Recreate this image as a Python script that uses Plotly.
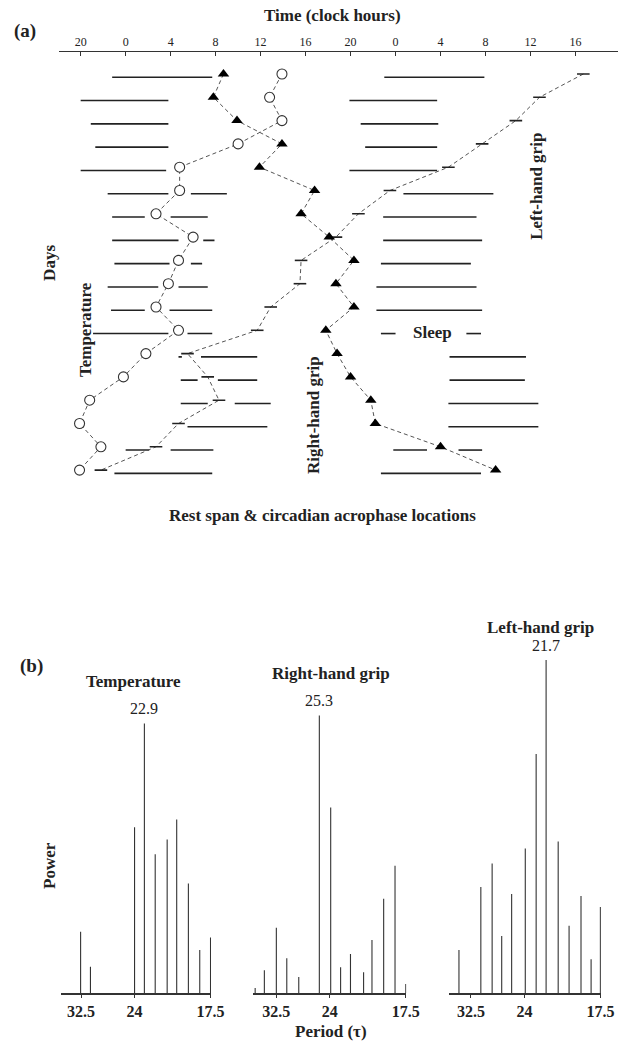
import plotly.graph_objects as go

W, H = 632, 1041
SERIF = "Liberation Serif"
INK = "#222222"

# ---------------- panel (a): daily acrophases and rest spans ----------------
# axis hours: 20 = 20:00 on the first clock day, 24 = midnight, 48 = next midnight
days = list(range(18))
temp_acro = [37.9, 36.8, 37.9, 34.0, 28.8, 28.8, 26.7, 30.0, 28.7,
             27.8, 26.7, 28.7, 25.8, 23.8, 20.8, 19.9, 21.8, 19.9]
rgrip_acro = [32.7, 31.8, 33.9, 37.9, 35.9, 40.8, 39.6, 42.1, 44.3,
              42.7, 44.3, 41.8, 42.8, 44.0, 45.8, 46.2, 52.0, 56.9]
lgrip_acro = [64.7, 60.8, 58.7, 55.7, 52.7, 47.5, 44.7, 42.7, 39.6,
              39.5, 36.9, 35.7, 29.5, 31.3, 32.3, 28.7, 26.7, 21.8]

# rest spans (double plotted): one entry per drawn segment
sleep_day = [0, 1, 2, 3, 4, 5, 5, 6, 6, 7, 7, 8, 8, 9, 9, 10, 10, 11, 11,
             12, 12, 13, 13, 14, 14, 15, 16, 16, 17,
             0, 1, 2, 3, 4, 5, 6, 7, 8, 9, 10, 11, 11,
             12, 13, 14, 15, 16, 16, 17]
sleep_start = [22.8, 20.0, 20.9, 21.3, 20.0, 22.4, 29.8, 22.8, 28.0, 22.8, 30.9,
               23.0, 29.8, 22.4, 28.7, 22.7, 27.9, 21.1, 29.5,
               28.7, 30.7, 28.9, 32.2, 28.9, 33.7, 29.5, 24.0, 28.0, 23.0,
               47.0, 43.9, 44.9, 45.3, 43.9, 48.7, 46.9, 46.9, 46.7, 46.3, 46.3,
               46.7, 54.3, 52.8, 52.8, 52.7, 52.7, 47.8, 53.6, 46.7]
sleep_end = [31.7, 27.8, 27.8, 27.8, 27.6, 27.8, 33.0, 25.7, 31.3, 28.7, 31.9,
             27.9, 30.8, 26.9, 31.3, 25.7, 31.7, 27.8, 31.7,
             29.0, 35.7, 30.4, 35.7, 31.3, 36.9, 36.6, 26.1, 31.8, 31.7,
             55.9, 51.7, 51.8, 51.7, 51.7, 56.7, 55.2, 55.7, 54.7, 55.2, 55.7,
             48.0, 55.6, 59.6, 59.5, 60.7, 60.7, 50.8, 55.7, 55.6]

time_ticks = [20, 24, 28, 32, 36, 40, 44, 48, 52, 56, 60, 64]
time_labels = ["20", "0", "4", "8", "12", "16", "20", "0", "4", "8", "12", "16"]

# ---------------- panel (b): periodograms ----------------
temp_period = [32.6, 30.6, 24.0, 22.9, 21.8, 20.7, 19.9, 19.0, 18.2, 17.5]
temp_power = [18.4, 7.9, 49.8, 80.9, 41.7, 46.1, 52.1, 32.9, 12.9, 16.7]

rgrip_period = [37.8, 35.3, 32.5, 30.4, 28.3, 25.3, 23.9, 22.8, 21.8, 20.6, 19.9, 19.0, 18.2, 17.5]
rgrip_power = [1.5, 6.8, 19.6, 10.4, 4.8, 83.3, 55.7, 7.7, 11.7, 6.2, 15.9, 28.3, 38.2, 2.7]

lgrip_period = [35.3, 30.5, 28.5, 27.0, 25.6, 23.9, 22.7, 21.7, 20.6, 19.7, 18.8, 18.1, 17.5]
lgrip_power = [12.9, 31.8, 38.9, 17.1, 29.7, 43.4, 71.8, 100.0, 45.5, 20.2, 29.1, 10.1, 25.8]

period_ticks = [32.5, 24, 17.5]


def px(x):
    return x / W


def py(y):
    return 1 - y / H


def label(text, x, y, size, angle=0, bold=True):
    return dict(x=px(x), y=py(y), xref="paper", yref="paper",
                text=f"<b>{text}</b>" if bold else text, textangle=angle,
                showarrow=False, xanchor="center", yanchor="middle",
                font=dict(family=SERIF, size=size, color=INK))


fig = go.Figure()

# rest spans, drawn slightly below each day's acrophase row
bx, by = [], []
for d, s, e in zip(sleep_day, sleep_start, sleep_end):
    bx += [s, e, None]
    by += [d + 0.14, d + 0.14, None]
fig.add_trace(go.Scatter(x=bx, y=by, mode="lines", line=dict(color=INK, width=1.6),
                         hoverinfo="skip", xaxis="x", yaxis="y"))

conn = dict(color="#555555", width=1, dash="4px,3px")
fig.add_trace(go.Scatter(x=lgrip_acro, y=days, mode="lines+markers", line=conn,
                         marker=dict(symbol="line-ew", size=9, line=dict(width=1.6, color=INK)),
                         xaxis="x", yaxis="y", name="Left-hand grip"))
fig.add_trace(go.Scatter(x=temp_acro, y=days, mode="lines+markers", line=conn,
                         marker=dict(symbol="circle", size=10, color="white",
                                     line=dict(width=1.1, color="#333333")),
                         xaxis="x", yaxis="y", name="Temperature"))
fig.add_trace(go.Scatter(x=rgrip_acro, y=days, mode="lines+markers", line=conn,
                         marker=dict(symbol="triangle-up", size=10, color="black"),
                         xaxis="x", yaxis="y", name="Right-hand grip"))

# ---------------- spectra ----------------
spectra = [
    ("Temperature", temp_period, temp_power, "x2", "y2", 62, 215.3, (137, 681)),
    ("Right-hand grip", rgrip_period, rgrip_power, "x3", "y3", 259, 415, (338, 673)),
    ("Left-hand grip", lgrip_period, lgrip_power, "x4", "y4", 459.3, 614, (553, 627)),
]
PX_PER_FREQ = 5020.0
PX_PER_UNIT = 3.33
base_y, top_y = 993, 640
pow_top = (base_y - top_y) / PX_PER_UNIT

annotations = []
layout_axes = {}
for i, (name, per, pw, xa, ya, left_px, right_px, title_xy) in enumerate(spectra):
    sx, sy = [], []
    for p, v in zip(per, pw):
        sx += [1 / p, 1 / p, None]
        sy += [0, v, None]
    fig.add_trace(go.Scatter(x=sx, y=sy, mode="lines", line=dict(color="#333333", width=1.1),
                             hoverinfo="skip", xaxis=xa, yaxis=ya))
    f_right = 1 / 17.5
    f_left = f_right - (right_px - left_px) / PX_PER_FREQ
    layout_axes["xaxis%d" % (i + 2)] = dict(
        domain=[px(left_px), px(right_px + 0.5)], range=[f_left, f_right + 0.5 / PX_PER_FREQ],
        anchor=ya, showline=True, linecolor="#333333", linewidth=1.6, showgrid=False,
        zeroline=False, ticks="outside", ticklen=3, tickcolor="#333333",
        tickvals=[1 / t for t in period_ticks], ticktext=[f"<b>{t:g}</b>" for t in period_ticks],
        tickfont=dict(family=SERIF, size=16, color=INK), fixedrange=True)
    layout_axes["yaxis%d" % (i + 2)] = dict(
        domain=[py(base_y), py(top_y)], range=[0, pow_top], anchor=xa, visible=False,
        fixedrange=True)
    # peak value label
    k = max(range(len(pw)), key=lambda j: pw[j])
    annotations.append(dict(x=1 / per[k], y=pw[k], xref=xa, yref=ya, text=f"{per[k]:.1f}",
                            showarrow=False, xanchor="center", yanchor="middle", yshift=15,
                            font=dict(family=SERIF, size=16, color=INK)))
    annotations.append(label(name, title_xy[0], title_xy[1], 17))

# panel labels and axis titles
for text, x, y, size, ang in [
    ("Time (clock hours)", 340, 15, 17, 0),
    ("(a)", 26, 31, 19, 0),
    ("Days", 50, 263, 17, -90),
    ("Temperature", 87, 330, 17, -90),
    ("Right-hand grip", 320, 415, 17, -90),
    ("Left-hand grip", 548, 186, 17, -90),
    ("Rest span &amp; circadian acrophase locations", 330, 515, 17, 0),
    ("(b)", 32, 666, 19, 0),
    ("Power", 50, 865, 17, -90),
    ("Period (\u03c4)", 338, 1031, 17, 0),
]:
    annotations.append(label(text, x, y, size, ang))
annotations.append(dict(x=51.3, y=11.1, xref="x", yref="y", text="<b>Sleep</b>", showarrow=False,
                        xanchor="center", yanchor="middle",
                        font=dict(family=SERIF, size=17, color=INK)))

# hour axis geometry: 11.5 px per hour, hour 20 at x = 82.5 px
PX_PER_HOUR = 11.5
t_left = 20 - (82.5 - 60) / PX_PER_HOUR
t_right = 20 + (W - 82.5) / PX_PER_HOUR
row0_y, row_h = 74, 23.3
axis_top_px, axis_bot_px = 52, 490

fig.update_layout(
    width=W, height=H, margin=dict(l=0, r=0, t=0, b=0),
    paper_bgcolor="white", plot_bgcolor="white", showlegend=False,
    xaxis=dict(domain=[px(60), 1], range=[t_left, t_right], side="top", anchor="y",
               showline=True, linecolor="#333333", linewidth=1.4, showgrid=False, zeroline=False,
               ticks="inside", ticklen=4, tickcolor="#333333",
               tickvals=time_ticks, ticktext=time_labels,
               tickfont=dict(family=SERIF, size=12, color=INK), fixedrange=True),
    yaxis=dict(domain=[py(axis_bot_px), py(axis_top_px)],
               range=[(axis_bot_px - row0_y) / row_h, (axis_top_px - row0_y) / row_h],
               anchor="x", visible=False, fixedrange=True),
    annotations=annotations,
    **layout_axes,
)

fig.write_html("out.html")
